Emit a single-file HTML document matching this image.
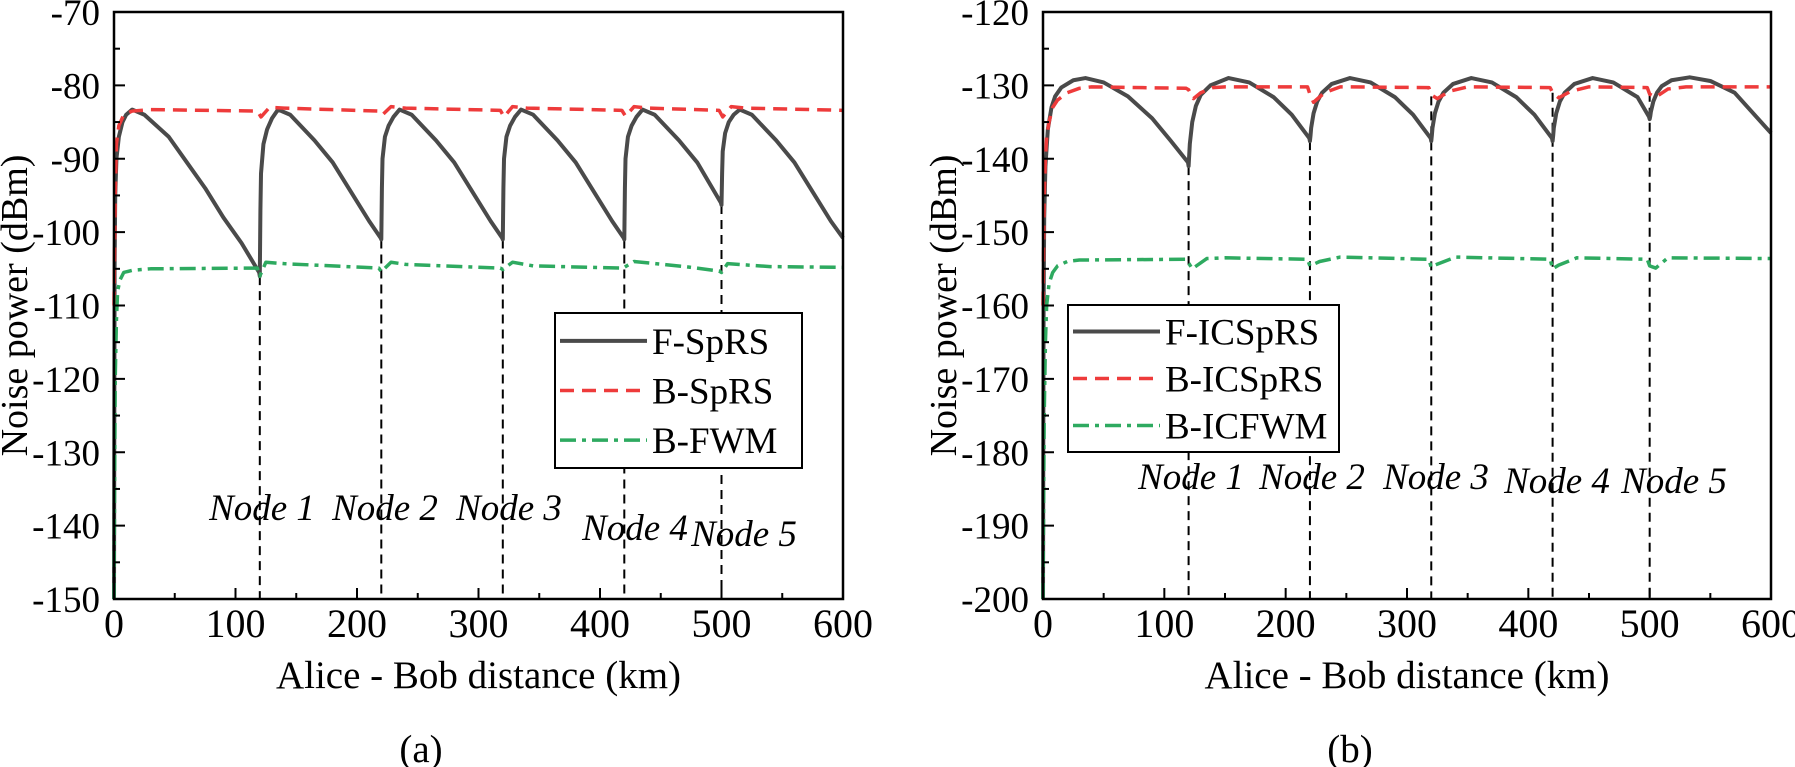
<!DOCTYPE html>
<html><head><meta charset="utf-8"><style>
body{margin:0;background:#fff;}
svg{display:block;}
svg text{font-family:"Liberation Serif","DejaVu Serif",serif;}
</style></head><body>
<svg id="s" width="1795" height="767" viewBox="0 0 1795 767" xmlns="http://www.w3.org/2000/svg"></svg>
<script>
// ---------- data: shared ----------
const xTicks = [0,100,200,300,400,500,600];
const yTicksA = [-70,-80,-90,-100,-110,-120,-130,-140,-150];
const yTicksB = [-120,-130,-140,-150,-160,-170,-180,-190,-200];
const nodeDist = [120,220,320,420,500];
const nodeNames = ["Node 1","Node 2","Node 3","Node 4","Node 5"];

// ---------- data: panel (a) ----------
const fSprsX = [0,0.5,1,2,4,7,10,15,25,45,60,75,90,105,119.5,120,120.5,121,123,126,130,135,145,165,180,195,210,219.5,220,220.5,221,223,226,230,235,245,265,280,295,310,319.5,320,320.5,321,323,326,330,335,345,365,380,395,410,419.5,420,420.5,421,423,426,430,435,445,465,480,499.5,500,500.5,501,503,506,510,515,525,545,560,575,590,600];
const fSprsY = [-150,-105,-95,-90,-87,-85,-84,-83.3,-84,-87,-90.5,-94,-98,-101.5,-105.5,-106,-97,-92,-88,-86,-84.5,-83.3,-84,-87.5,-90.5,-94.5,-98.5,-100.8,-101,-94,-90,-87,-85.5,-84.3,-83.3,-84,-87.5,-90.5,-94.5,-98.5,-100.8,-101,-94,-90,-87,-85.5,-84.3,-83.3,-84,-87.5,-90.5,-94.5,-98.5,-100.8,-101,-94,-90,-87,-85.5,-84.3,-83.3,-84,-87.5,-90.5,-96,-96.3,-92,-89,-86.5,-85,-84,-83.3,-84,-87.5,-90.5,-94.5,-98.5,-100.8];
const bSprsX = [0,1,2,4,8,15,30,118,121,128,140,218,221,228,240,318,321,328,340,418,421,428,440,498,501,508,520,600];
const bSprsY = [-110,-95,-88,-85.5,-84,-83.5,-83.3,-83.5,-84.3,-83,-83.1,-83.5,-84,-82.9,-83.1,-83.4,-84.3,-82.9,-83.1,-83.4,-84.2,-82.9,-83.1,-83.4,-84.3,-82.9,-83.1,-83.4];
const bFwmX = [0,1,2,3,5,8,15,30,118,120,125,140,218,220,228,240,318,320,328,345,418,420,428,470,498,500,505,540,600];
const bFwmY = [-150,-120,-112,-108,-106.5,-105.5,-105.2,-105,-104.9,-106,-104.1,-104.3,-104.9,-105.4,-104.1,-104.4,-104.9,-105.1,-104.1,-104.6,-104.9,-104.8,-104,-104.7,-105.3,-105.5,-104.3,-104.7,-104.8];

// ---------- data: panel (b) ----------
const fIcX = [0,0.5,1,2,4,7,10,15,25,35,50,70,90,105,119.5,120,120.5,121,123,126,130,138,153,170,190,205,219.5,220,220.5,221,223,226,230,238,253,270,290,305,319.5,320,320.5,321,323,326,330,338,353,370,390,405,419.5,420,420.5,421,423,426,430,438,453,470,490,499.5,500,500.5,501,503,506,510,518,533,550,570,600];
const fIcY = [-200,-160,-148,-141,-136,-133,-131.5,-130.3,-129.3,-129,-129.6,-131.5,-134.5,-137.5,-140.5,-141,-139.5,-138,-135,-132.8,-131.3,-130,-129,-129.6,-131.6,-134,-137.2,-137.6,-136.8,-135.8,-133.8,-132.2,-131,-129.8,-129,-129.6,-131.6,-134,-137.2,-137.6,-136.8,-135.8,-133.8,-132.2,-131,-129.8,-129,-129.6,-131.6,-134,-137.2,-137.6,-136.8,-135.8,-133.8,-132.2,-131,-129.8,-129,-129.6,-131.6,-134.3,-134.6,-134.2,-133.6,-132.2,-131,-130.1,-129.3,-128.9,-129.4,-131,-136.5];
const bIcX = [0,1,2,3,5,8,12,20,30,40,118,120,124,130,140,150,218,220,223,232,245,318,320,325,335,350,418,420,425,435,450,498,500,505,515,530,600];
const bIcY = [-160,-145,-140,-137,-135,-133,-132,-131,-130.4,-130.2,-130.4,-130.6,-131.8,-131,-130.3,-130.2,-130.2,-131.2,-132.3,-131,-130.2,-130.3,-131.3,-131.8,-130.8,-130.2,-130.3,-131,-131.7,-130.8,-130.2,-130.3,-131.2,-131.6,-130.5,-130.2,-130.2];
const bIcfX = [0,1,2,3,5,8,12,20,30,118,120,123,135,150,218,220,228,245,318,320,323,340,418,420,425,440,498,500,505,515,600];
const bIcfY = [-200,-175,-165,-160,-157,-155.5,-154.6,-154,-153.8,-153.7,-154.2,-155,-153.6,-153.5,-153.7,-154.6,-154,-153.4,-153.7,-154.8,-154.5,-153.4,-153.7,-155,-154.5,-153.5,-153.7,-154.6,-154.9,-153.5,-153.6];

const NS="http://www.w3.org/2000/svg";
const svg=document.getElementById('s');
function mk(tag,attrs,parent){const e=document.createElementNS(NS,tag);for(const k in attrs)e.setAttribute(k,attrs[k]);(parent||svg).appendChild(e);return e;}

function panel(cfg){
  const g=mk('g',{});
  
  
  const X0=cfg.x0,X1=cfg.x1,Y0=12,Y1=599;
  const ymax=cfg.yTicks[0],ymin=cfg.yTicks[cfg.yTicks.length-1];
  const sx=v=>X0+(v-0)/(600-0)*(X1-X0);
  const sy=v=>Y0+(ymax-v)/(ymax-ymin)*(Y1-Y0);
  nodeDist.forEach((d,i)=>{
    const l=mk('line',{x1:sx(d),x2:sx(d),y1:sy(cfg.nodeTop[i]),y2:Y1,stroke:'#000','stroke-width':2,'stroke-dasharray':'9,6'},g);
    
    
  });
  cfg.series.forEach(s=>{
    const d=s.x.map((v,i)=>(i?'L':'M')+sx(v).toFixed(2)+','+sy(Math.max(ymin,s.y[i])).toFixed(2)).join('');
    const p=mk('path',{d:d,fill:'none',stroke:s.color,'stroke-width':s.w,'stroke-dasharray':s.dash,'stroke-linejoin':'round'},g);
    
    
  });
  const fr=mk('rect',{x:X0,y:Y0,width:X1-X0,height:Y1-Y0,fill:'none',stroke:'#000','stroke-width':2.5},g);
  
  
  xTicks.forEach((t,i)=>{
    mk('line',{x1:sx(t),x2:sx(t),y1:Y1,y2:Y1-11,stroke:'#000','stroke-width':2},g);
    if(i<xTicks.length-1){const m=t+50;mk('line',{x1:sx(m),x2:sx(m),y1:Y1,y2:Y1-6,stroke:'#000','stroke-width':2},g);}
    const tx=mk('text',{x:sx(t),y:637,'font-size':40,'text-anchor':'middle'},g);
    tx.textContent=t;
    
    
  });
  cfg.yTicks.forEach((t,i)=>{
    mk('line',{x1:X0,x2:X0+11,y1:sy(t),y2:sy(t),stroke:'#000','stroke-width':2},g);
    if(i<cfg.yTicks.length-1){const m=t-5;mk('line',{x1:X0,x2:X0+6,y1:sy(m),y2:sy(m),stroke:'#000','stroke-width':2},g);}
    const ty=mk('text',{x:X0-14,y:sy(t)+13,'font-size':37,'text-anchor':'end'},g);
    ty.textContent=t;
    
    
  });
  const xt=mk('text',{x:(X0+X1)/2,y:688,'font-size':39,'text-anchor':'middle'},g);
  xt.textContent='Alice - Bob distance (km)';
  
  
  const yt=mk('text',{x:0,y:0,'font-size':38,'text-anchor':'middle',transform:`translate(${X0-87},${(Y0+Y1)/2}) rotate(-90)`},g);
  yt.textContent='Noise power (dBm)';
  
  
  const cap=mk('text',{x:cfg.capX,y:762,'font-size':39,'text-anchor':'middle'},g);
  cap.textContent=cfg.caption;
  
  
  nodeNames.forEach((n,i)=>{
    const t=mk('text',{x:cfg.nodeLX[i],y:cfg.nodeLY[i],'font-size':37,'font-style':'italic','text-anchor':'middle'},g);
    t.textContent=n;
    
    
  });
  const L=cfg.legend;
  const lg=mk('g',{},g);
  
  
  mk('rect',{x:L.x,y:L.y,width:L.w,height:L.h,fill:'#fff',stroke:'#000','stroke-width':2},lg);
  cfg.series.forEach((s,i)=>{
    const yy=L.y+L.h*(0.18+0.32*i);
    mk('line',{x1:L.x+5,x2:L.x+92,y1:yy,y2:yy,stroke:s.color,'stroke-width':s.w,'stroke-dasharray':s.dash},lg);
    const t=mk('text',{x:L.x+97,y:yy+13,'font-size':37},lg);
    t.textContent=s.label;
    
    
  });
}
const dashR='14,8', dashG='16,6,4,6';
panel({name:'panel-a',x0:114,x1:843,yTicks:yTicksA,caption:'(a)',capX:421,
  nodeTop:[-106,-101,-101,-101,-96.3],
  nodeLX:[262,385,509,635,744],nodeLY:[520,520,520,540,546],
  legend:{x:555,y:313,w:247,h:155},
  series:[
    {key:'f-sprs',label:'F-SpRS',x:fSprsX,y:fSprsY,color:'#4a4a4a',w:4,dash:'none'},
    {key:'b-sprs',label:'B-SpRS',x:bSprsX,y:bSprsY,color:'#ee3b3b',w:3.5,dash:dashR},
    {key:'b-fwm',label:'B-FWM',x:bFwmX,y:bFwmY,color:'#2eaa60',w:3.5,dash:dashG}]});
panel({name:'panel-b',x0:1043,x1:1771,yTicks:yTicksB,caption:'(b)',capX:1350,
  nodeTop:[-141,-137.6,-131.5,-131,-131],
  nodeLX:[1191,1312,1436,1557,1674],nodeLY:[489,489,489,493,493],
  legend:{x:1068,y:305,w:271,h:147},
  series:[
    {key:'f-icsprs',label:'F-ICSpRS',x:fIcX,y:fIcY,color:'#4a4a4a',w:4,dash:'none'},
    {key:'b-icsprs',label:'B-ICSpRS',x:bIcX,y:bIcY,color:'#ee3b3b',w:3.5,dash:dashR},
    {key:'b-icfwm',label:'B-ICFWM',x:bIcfX,y:bIcfY,color:'#2eaa60',w:3.5,dash:dashG}]});
</script>
</body></html>
